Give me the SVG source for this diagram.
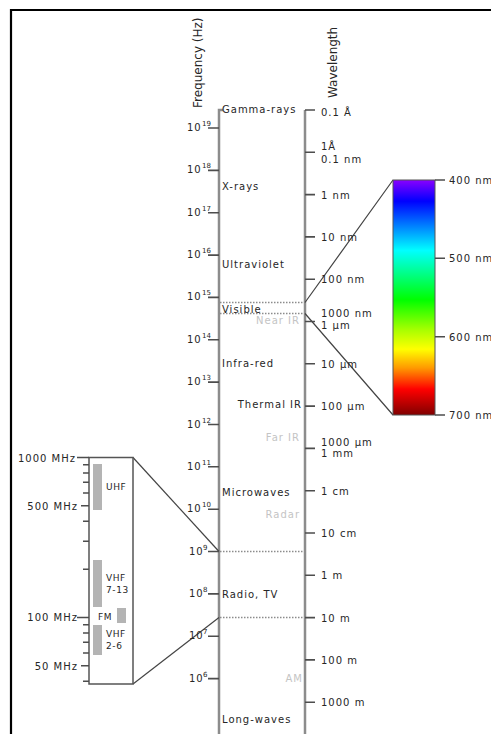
<svg xmlns="http://www.w3.org/2000/svg" width="491" height="734" viewBox="0 0 491 734">
<defs>
<linearGradient id="spec" x1="0" y1="0" x2="0" y2="1">
<stop offset="0" stop-color="#8a00ff"/>
<stop offset="0.09" stop-color="#0000ff"/>
<stop offset="0.3" stop-color="#00ffff"/>
<stop offset="0.51" stop-color="#00ff00"/>
<stop offset="0.64" stop-color="#aaff00"/>
<stop offset="0.72" stop-color="#ffff00"/>
<stop offset="0.8" stop-color="#ff9900"/>
<stop offset="0.89" stop-color="#ff0000"/>
<stop offset="1" stop-color="#800000"/>
</linearGradient>
</defs>
<style>
text{font-family:"DejaVu Sans","Liberation Sans",sans-serif;fill:#262626}
.t{font-size:10px;letter-spacing:1px}
.s{font-size:10px;letter-spacing:1px}
.sup{font-size:7px}
.lt{fill:#c4c4c4}
.ttl{font-size:12px}
.sm{font-size:9px;letter-spacing:0.6px}
.axis{stroke:#8c8c8c;stroke-width:2.5;fill:none}
.tick{stroke:#4d4d4d;stroke-width:1.6;fill:none}
.dot{stroke:#8c8c8c;stroke-width:1.5;stroke-dasharray:1.5 1.5;fill:none}
.link{stroke:#444;stroke-width:1.2;fill:none}
.bar{fill:#b4b4b4}
</style>
<rect width="491" height="734" fill="#fff"/>
<path d="M11,734 V10 H491" stroke="#000" stroke-width="2.2" fill="none"/>

<g id="titles">
<text class="ttl" transform="translate(202,108) rotate(-90)">Frequency (Hz)</text>
<text class="ttl" transform="translate(337,98) rotate(-90)">Wavelength</text>
</g>

<g id="connectors">
<path class="axis" d="M223,110 H219 V734"/>
<path class="axis" d="M305,110 V734"/>
<path class="dot" d="M220,302.5 H304 M220,313.5 H304 M220,551.5 H304 M220,617.5 H304"/>
<path class="link" d="M393,180 L305,302.5 M305,313.5 L393,415"/>
<path class="link" d="M133,457.5 L219,551.5"/>
<path class="link" stroke="#666" d="M133,684 L219,617.5"/>
</g>

<g id="frequency-axis">
<path class="tick" d="M208,128 H219 M208,170.4 H219 M208,212.7 H219 M208,255.1 H219 M208,297.4 H219 M208,339.8 H219 M208,382.1 H219 M208,424.5 H219 M208,466.8 H219 M208,509.2 H219 M208,551.5 H219 M208,593.9 H219 M208,636.2 H219 M208,678.6 H219"/>
<text class="t" x="187" y="131">10</text><text class="sup" x="202" y="126">19</text>
<text class="t" x="187" y="173.4">10</text><text class="sup" x="202" y="168.4">18</text>
<text class="t" x="187" y="215.7">10</text><text class="sup" x="202" y="210.7">17</text>
<text class="t" x="187" y="258.1">10</text><text class="sup" x="202" y="253.1">16</text>
<text class="t" x="187" y="300.4">10</text><text class="sup" x="202" y="295.4">15</text>
<text class="t" x="187" y="342.8">10</text><text class="sup" x="202" y="337.8">14</text>
<text class="t" x="187" y="385.1">10</text><text class="sup" x="202" y="380.1">13</text>
<text class="t" x="187" y="427.5">10</text><text class="sup" x="202" y="422.5">12</text>
<text class="t" x="187" y="469.8">10</text><text class="sup" x="202" y="464.8">11</text>
<text class="t" x="187" y="512.2">10</text><text class="sup" x="202" y="507.2">10</text>
<text class="t" x="189" y="554.5">10</text><text class="sup" x="203" y="549.5">9</text>
<text class="t" x="189" y="596.9">10</text><text class="sup" x="203" y="591.9">8</text>
<text class="t" x="189" y="639.2">10</text><text class="sup" x="203" y="634.2">7</text>
<text class="t" x="189" y="681.6">10</text><text class="sup" x="203" y="676.6">6</text>
</g>

<g id="wavelength-axis">
<path class="tick" d="M305,110 H315 M305,152.3 H315 M305,194.6 H315 M305,236.9 H315 M305,279.2 H315 M305,321.5 H315 M305,363.8 H315 M305,406.1 H315 M305,448.4 H315 M305,490.7 H315 M305,533 H315 M305,575.3 H315 M305,617.6 H315 M305,659.9 H315 M305,702.2 H315"/>
<text class="s" x="321" y="116">0.1 Å</text>
<text class="s" x="321" y="150">1Å</text>
<text class="s" x="321" y="163">0.1 nm</text>
<text class="s" x="321" y="198.6">1 nm</text>
<text class="s" x="321" y="240.9">10 nm</text>
<text class="s" x="321" y="283.2">100 nm</text>
<text class="s" x="321" y="317">1000 nm</text>
<text class="s" x="321" y="329">1 µm</text>
<text class="s" x="321" y="367.8">10 µm</text>
<text class="s" x="321" y="410.1">100 µm</text>
<text class="s" x="321" y="446">1000 µm</text>
<text class="s" x="321" y="457">1 mm</text>
<text class="s" x="321" y="494.7">1 cm</text>
<text class="s" x="321" y="537">10 cm</text>
<text class="s" x="321" y="579.3">1 m</text>
<text class="s" x="321" y="621.6">10 m</text>
<text class="s" x="321" y="663.9">100 m</text>
<text class="s" x="321" y="706.2">1000 m</text>
</g>

<g id="bands">
<text class="t" x="222" y="113">Gamma-rays</text>
<text class="t" x="222" y="190">X-rays</text>
<text class="t" x="222" y="268">Ultraviolet</text>
<text class="t" x="222" y="313">Visible</text>
<text class="t lt" x="300" y="324" text-anchor="end">Near IR</text>
<text class="t" x="222" y="367">Infra-red</text>
<text class="t" x="302" y="408" text-anchor="end">Thermal IR</text>
<text class="t lt" x="300" y="441" text-anchor="end">Far IR</text>
<text class="t" x="222" y="496">Microwaves</text>
<text class="t lt" x="300" y="518" text-anchor="end">Radar</text>
<text class="t" x="222" y="598">Radio, TV</text>
<text class="t lt" x="303" y="682" text-anchor="end">AM</text>
<text class="t" x="222" y="723">Long-waves</text>
</g>

<g id="visible-spectrum">
<rect x="393" y="180" width="42" height="235" fill="url(#spec)" stroke="#555" stroke-width="1"/>
<path class="tick" d="M435,180 H445 M435,258.3 H445 M435,336.7 H445 M435,415 H445"/>
<text class="s" x="449" y="184">400 nm</text>
<text class="s" x="449" y="262">500 nm</text>
<text class="s" x="449" y="341">600 nm</text>
<text class="s" x="449" y="419">700 nm</text>
</g>

<g id="radio-inset">
<rect x="89" y="457.5" width="44" height="226.5" fill="#fff" stroke="#555" stroke-width="1.5"/>
<path class="tick" d="M77,457.5 H89 M83,464.8 H89 M83,473 H89 M83,482.3 H89 M83,493 H89 M81,505.7 H89 M83,521.2 H89 M83,541.2 H89 M83,569.3 H89 M77,617.5 H89 M83,624.8 H89 M83,633 H89 M83,642.3 H89 M83,653 H89 M81,665.7 H89 M83,681.2 H89"/>
<text class="s" x="76" y="462" text-anchor="end">1000 MHz</text>
<text class="s" x="78" y="510" text-anchor="end">500 MHz</text>
<text class="s" x="78" y="621" text-anchor="end">100 MHz</text>
<text class="s" x="78" y="670" text-anchor="end">50 MHz</text>
<rect class="bar" x="93" y="464" width="9" height="46"/>
<rect class="bar" x="93" y="560" width="9" height="47"/>
<rect class="bar" x="117" y="608" width="9" height="15"/>
<rect class="bar" x="93" y="625" width="9" height="30"/>
<text class="sm" x="106" y="490">UHF</text>
<text class="sm" x="106" y="581">VHF</text>
<text class="sm" x="106" y="593">7-13</text>
<text class="sm" x="98" y="620">FM</text>
<text class="sm" x="106" y="637">VHF</text>
<text class="sm" x="106" y="649">2-6</text>
</g>
</svg>
